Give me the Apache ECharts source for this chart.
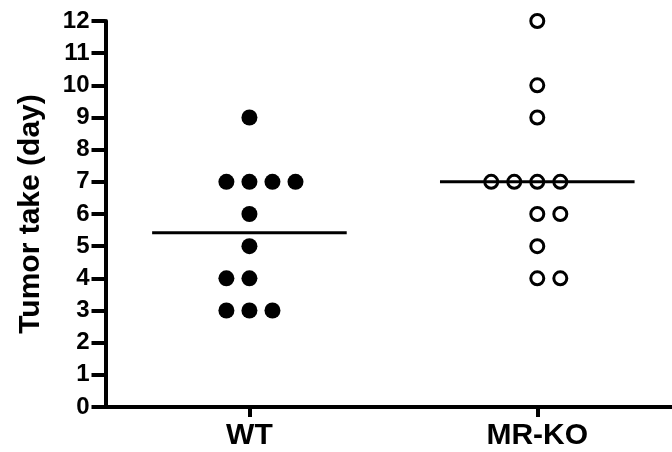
<!DOCTYPE html>
<html>
<head>
<meta charset="utf-8">
<script src="https://cdn.jsdelivr.net/npm/echarts@6/dist/echarts.min.js"></script>
<style>html,body{margin:0;padding:0;background:#fff}#c{width:672px;height:452px}</style>
</head>
<body>
<div id="c"></div>
<script>
// ---- data ----
var categories = ['WT', 'MR-KO'];
var yTicks = [0, 12, 1]; // min, max, step
var wtValues  = [9, 7, 7, 7, 7, 6, 5, 4, 4, 3, 3, 3];
var wtColumns = [0, -1, 0, 1, 2, 0, 0, -1, 0, -1, 0, 1];
var koValues  = [12, 10, 9, 7, 7, 7, 7, 6, 6, 5, 4, 4];
var koColumns = [0, 0, 0, -2, -1, 0, 1, 0, 1, 0, 0, 1];
var yTitle = 'Tumor take (day)';

// ---- layout constants ----
var colStep = 0.08;
var halfLine = 0.338;
var FONT = '"Liberation Sans", Arial, sans-serif';

function pts(vals, cols, g) {
  return vals.map(function (v, i) { return [g + cols[i] * colStep, v]; });
}
function mean(a) { return a.reduce(function (s, v) { return s + v; }, 0) / a.length; }
function meanLine(vals, g) {
  var m = mean(vals);
  return [[g - halfLine, m], [g + halfLine, m]];
}

var chart = echarts.init(document.getElementById('c'));
chart.setOption({
  animation: false,
  backgroundColor: '#fff',
  grid: { left: 105.5, right: 0, top: 21, bottom: 45, containLabel: false },
  xAxis: {
    type: 'value', min: 0.5, max: 2.468,
    splitLine: { show: false },
    axisLine: { show: true, lineStyle: { color: '#000', width: 4 } },
    axisTick: { show: true, customValues: [1, 2], length: 10, lineStyle: { color: '#000', width: 4 } },
    axisLabel: {
      customValues: [1, 2], margin: 14,
      formatter: function (v) { return categories[Math.round(v) - 1] || ''; },
      color: '#000', fontFamily: FONT, fontWeight: 'bold', fontSize: 30
    }
  },
  yAxis: {
    type: 'value', min: yTicks[0], max: yTicks[1], interval: yTicks[2],
    name: yTitle, nameLocation: 'middle', nameGap: 60,
    nameTextStyle: { color: '#000', fontFamily: FONT, fontWeight: 'bold', fontSize: 30 },
    splitLine: { show: false },
    axisLine: { show: true, lineStyle: { color: '#000', width: 4 } },
    axisTick: { show: true, length: 14, lineStyle: { color: '#000', width: 4 } },
    axisLabel: {
      margin: 16, color: '#000', fontFamily: FONT, fontWeight: 'bold', fontSize: 24,
      padding: [0, 0, 7, 0]
    }
  },
  series: [
    {
      type: 'line', data: meanLine(wtValues, 1), symbol: 'none',
      lineStyle: { color: '#000', width: 3 }, z: 3
    },
    {
      type: 'line', data: meanLine(koValues, 2), symbol: 'none',
      lineStyle: { color: '#000', width: 3 }, z: 3
    },
    {
      type: 'scatter', data: pts(wtValues, wtColumns, 1), symbol: 'circle', symbolSize: 16,
      itemStyle: { color: '#000', opacity: 1 }, z: 4
    },
    {
      type: 'scatter', data: pts(koValues, koColumns, 2), symbol: 'circle', symbolSize: 13,
      itemStyle: { color: 'rgba(0,0,0,0)', borderColor: '#000', borderWidth: 3, opacity: 1 }, z: 4
    }
  ]
});
</script>
</body>
</html>
